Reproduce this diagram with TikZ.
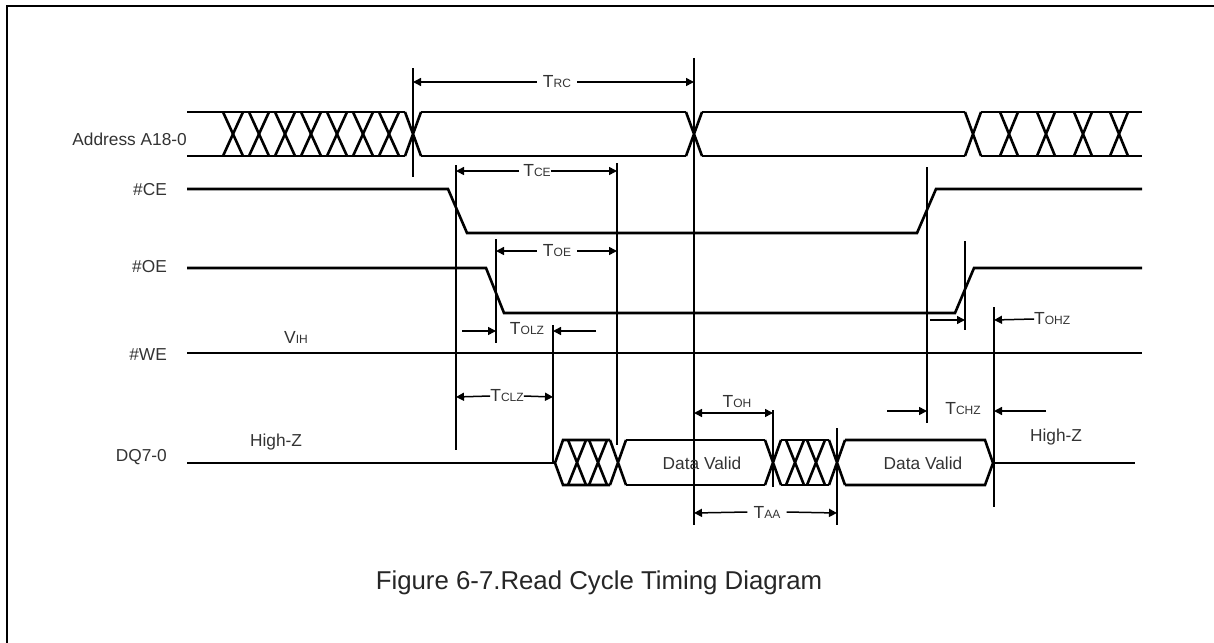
\documentclass[tikz,border=0pt]{standalone}
\usepackage{fontspec}
\setmainfont{Liberation Sans}
\usetikzlibrary{arrows.meta}
\newcommand{\Tsub}[2]{#1{\fontsize{12}{13}\selectfont #2}}
\begin{document}
\begin{tikzpicture}[x=1pt,y=-1pt,
  sig/.style={line width=2.6pt},
  thinline/.style={line width=1.5pt},
  dimarrow/.style={line width=1.5pt,-{Triangle[length=8pt,width=8pt]}},
  lbl/.style={font=\fontsize{17.3}{20}\selectfont,text=black!80,inner sep=0pt},
  tlbl/.style={font=\fontsize{17.5}{19}\selectfont,text=black!80,inner sep=0pt},
  captxt/.style={font=\fontsize{25.8}{30}\selectfont,text=black!85,inner sep=0pt}]
\useasboundingbox (0,0) rectangle (1214,642);
% frame
\draw[line width=2.8pt] (7,650) -- (7,6) -- (1225,6);

% ---------- Address bus ----------
\draw[sig] (187,112) -- (405,112) (187,156) -- (405,156);
\foreach \c in {233,259,285,311,337,363,389}
  \draw[sig] (\c-10,112) -- (\c+10,156) (\c-10,156) -- (\c+10,112);
\draw[sig] (405,112) -- (421,156) (405,156) -- (421,112);
\draw[sig] (421,112) -- (686,112) (421,156) -- (686,156);
\draw[sig] (686,112) -- (702,156) (686,156) -- (702,112);
\draw[sig] (702,112) -- (965,112) (702,156) -- (965,156);
\draw[sig] (965,112) -- (981,156) (965,156) -- (981,112);
\draw[sig] (981,112) -- (1142,112) (981,156) -- (1142,156);
\foreach \c in {1009,1046,1083,1119}
  \draw[sig] (\c-9,112) -- (\c+9,156) (\c-9,156) -- (\c+9,112);

% ---------- #CE, #OE, #WE ----------
\draw[sig] (187,189) -- (448,189) -- (467,233) -- (917,233) -- (936,189) -- (1142,189);
\draw[sig] (187,268) -- (486,268) -- (504,313) -- (955,313) -- (974,268) -- (1142,268);
\draw[sig] (187,353) -- (1142,353);

% ---------- DQ bus ----------
\draw[sig] (187,463) -- (555,463);
\draw[sig] (555,463) -- (563,440) -- (610,440) (555,463) -- (563,485) -- (610,485);
\foreach \c in {577,598}
  \draw[sig] (\c-9,440) -- (\c+9,485) (\c-9,485) -- (\c+9,440);
\draw[sig] (610,440) -- (626,485) (610,485) -- (626,440);
\draw[sig] (626,440) -- (765,440) (626,485) -- (765,485);
\draw[sig] (765,440) -- (781,485) (765,485) -- (781,440);
\draw[sig] (781,440) -- (829,440) (781,485) -- (829,485);
\foreach \c in {795,816}
  \draw[sig] (\c-9,440) -- (\c+9,485) (\c-9,485) -- (\c+9,440);
\draw[sig] (829,440) -- (845,485) (829,485) -- (845,440);
\draw[sig] (845,440) -- (985,440) -- (993,463) -- (985,485) -- (845,485);
\draw[sig] (993,463) -- (1135,463);

% ---------- vertical reference lines ----------
\coordinate (v413t) at (413,68);   \coordinate (v413b) at (413,177);
\coordinate (v694t) at (694,58);   \coordinate (v694b) at (694,525);
\coordinate (v456t) at (456,165);  \coordinate (v456b) at (456,450);
\coordinate (v617t) at (617,163);  \coordinate (v617b) at (617,445);
\coordinate (v496t) at (496,239);  \coordinate (v496b) at (496,343);
\coordinate (v553t) at (553,325);  \coordinate (v553b) at (553,463);
\coordinate (v773t) at (773,410);  \coordinate (v773b) at (773,487);
\coordinate (v837t) at (837,428);  \coordinate (v837b) at (837,525);
\coordinate (v927t) at (927,167);  \coordinate (v927b) at (927,423);
\coordinate (v965t) at (965,241);  \coordinate (v965b) at (965,330);
\coordinate (v994t) at (994,307);  \coordinate (v994b) at (994,507);
\foreach \v in {413,694,456,617,496,553,773,837,927,965,994}
  \draw[thinline] (v\v t) -- (v\v b);

% ---------- dimension labels and arrows ----------
\node[tlbl] (trc) at (557,82) {\Tsub{T}{RC}};
\draw[dimarrow] (trc.west) ++(-6,0) -- (413,82);
\draw[dimarrow] (trc.east) ++(6,0) -- (694,82);

\node[tlbl] (tce) at (537,171) {\Tsub{T}{CE}};
\draw[dimarrow] (tce.west) ++(-4,0) -- (456,171);
\draw[dimarrow] (tce.east) -- (617,171);

\node[tlbl] (toe) at (557,251) {\Tsub{T}{OE}};
\draw[dimarrow] (toe.west) ++(-6,0) -- (496,251);
\draw[dimarrow] (toe.east) ++(6,0) -- (617,251);

\node[tlbl] (tolz) at (527,329) {\Tsub{T}{OLZ}};
\coordinate (tolzl) at (462,331);
\coordinate (tolzr) at (596,331);
\draw[dimarrow] (tolzl) -- (496,331);
\draw[dimarrow] (tolzr) -- (553,331);

\node[tlbl] (tclz) at (507,396) {\Tsub{T}{CLZ}};
\draw[dimarrow] (tclz.west) -- (456,397);
\draw[dimarrow] (tclz.east) -- (553,397);

\node[tlbl] (toh) at (737,402) {\Tsub{T}{OH}};
\draw[line width=1.5pt,{Triangle[length=8pt,width=8pt]}-{Triangle[length=8pt,width=8pt]}] (694,413) -- (773,413);

\node[tlbl] (taa) at (767,512) {\Tsub{T}{AA}};
\draw[dimarrow] (taa.west) ++(-6,0) -- (694,513);
\draw[dimarrow] (taa.east) ++(6,0) -- (837,513);

\node[tlbl] (tchz) at (963,409) {\Tsub{T}{CHZ}};
\coordinate (tchzl) at (887,411);
\coordinate (tchzr) at (1046,411);
\draw[dimarrow] (tchzl) -- (927,411);
\draw[dimarrow] (tchzr) -- (994,411);

\node[tlbl,anchor=west] (tohz) at (1034,319) {\Tsub{T}{OHZ}};
\coordinate (tohzl) at (930,320);
\draw[dimarrow] (tohzl) -- (965,320);
\draw[dimarrow] (tohz.west) -- (994,320);

% ---------- signal names and texts ----------
\node[lbl,anchor=east] (addr) at (187,139) {Address A18-0};
\node[lbl,anchor=east] (ce) at (167,190) {\#CE};
\node[lbl,anchor=east] (oe) at (167,267) {\#OE};
\node[lbl,anchor=east] (we) at (167,355) {\#WE};
\node[lbl,anchor=east] (dq) at (167,457) {DQ7-0};
\node[tlbl] (vih) at (296,337) {\Tsub{V}{IH}};
\node[lbl] (hz1) at (276,442) {High-Z};
\node[lbl] (hz2) at (1056,437) {High-Z};
\node[lbl] (dv1) at (702,463) {Data Valid};
\node[lbl] (dv2) at (923,463) {Data Valid};

\node[captxt] (caption) at (599,583) {Figure 6-7.Read Cycle Timing Diagram};
\end{tikzpicture}
\end{document}
